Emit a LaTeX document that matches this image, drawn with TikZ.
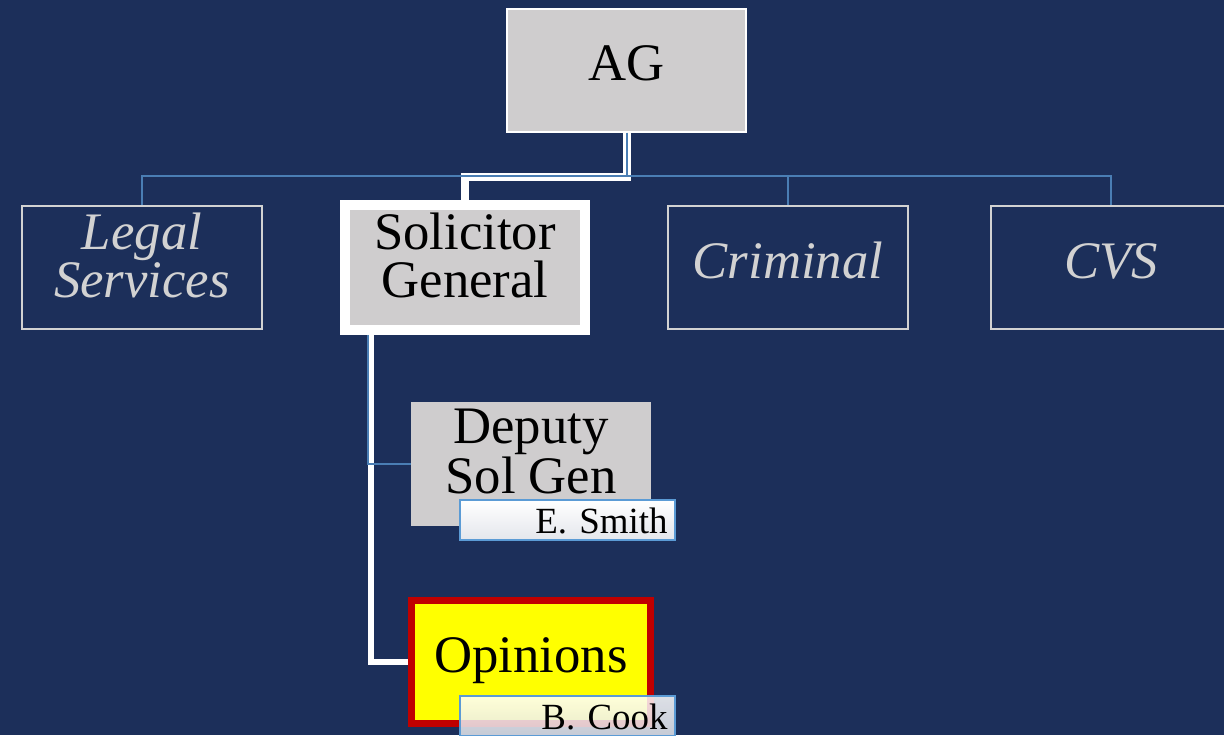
\documentclass[tikz,border=0pt]{standalone}
\usepackage{fontspec}
\setmainfont{Liberation Serif}
\definecolor{navy}{RGB}{28,47,90}
\definecolor{boxgrey}{RGB}{207,205,206}
\definecolor{treeblue}{RGB}{74,126,180}
\definecolor{dimtext}{RGB}{210,210,210}
\definecolor{tagblue}{RGB}{91,155,213}
\definecolor{tagshade}{RGB}{228,230,236}
\definecolor{hotred}{RGB}{192,0,0}
\definecolor{hotyellow}{RGB}{255,255,0}
\begin{document}
\begin{tikzpicture}[x=0.02cm, y=-0.02cm,
	every node/.style = {shape=rectangle, align=center, inner sep=0pt,
		font=\fontsize{30}{27}\selectfont, text height=12pt, text depth=0pt},
	twoline/.style = {text height=34pt},
	unit/.style = {draw=dimtext, line width=0.04cm, text=dimtext,
		minimum width=4.8cm, minimum height=2.46cm,
		font=\fontsize{30}{27}\selectfont\itshape},
	greybox/.style = {fill=boxgrey, minimum width=4.8cm, minimum height=2.48cm},
	nametag/.style = {draw=tagblue, line width=0.04cm, top color=white,
		bottom color=tagshade, minimum width=4.3cm, minimum height=0.8cm,
		text width=4.0cm, align=right, text height=15pt,
		font=\fontsize{21}{21}\selectfont},
	tree/.style = {draw=treeblue, line width=0.04cm},
	hilite/.style = {draw=white, line width=0.14cm}]
	\fill[navy] (0,0) rectangle (1224,735);
	\useasboundingbox (0,0) rectangle (1224,735);
	% top row
	\node[greybox, draw=white, line width=0.04cm, minimum width=4.78cm,
		minimum height=2.46cm, text height=11pt] (ag) at (626.5,70.5) {AG};
	\node[unit, twoline] (legal) at (142,267.5) {Legal\\Services};
	\node[greybox, twoline, draw=white, line width=0.2cm, minimum height=2.5cm] (solgen) at (465,267.5) {Solicitor\\General};
	\node[unit] (crim) at (788,267.5) {Criminal};
	\node[unit] (cvs) at (1111,267.5) {CVS};
	% under the solicitor general
	\node[greybox, twoline, text height=33pt] (deputy) at (531,464) {Deputy\\Sol Gen};
	\node[fill=hotyellow, draw=hotred, line width=0.14cm, minimum width=4.78cm,
		minimum height=2.46cm, text height=12.5pt] (opin) at (531,662) {Opinions};
	\node[nametag] (smith) at (567.5,520) {E. Smith};
	\node[nametag, fill opacity=0.85, text opacity=1] (cook) at (567.5,716) {B. Cook};
	% connectors
	\draw[hilite, line width=0.16cm] (ag.south) -- ++(0,44) -| (solgen.north);
	\draw[tree] (ag.south) -- ++(0,43) -| (legal.north);
	\draw[tree] (ag.south) -- ++(0,43) -| (crim.north);
	\draw[tree] (ag.south) -- ++(0,43) -| (cvs.north);
	\draw[hilite, line width=0.12cm] (solgen.south west) ++(31,0) |- (opin.west);
	\draw[tree] (solgen.south west) ++(28,0) |- (deputy.west);
\end{tikzpicture}
\end{document}
